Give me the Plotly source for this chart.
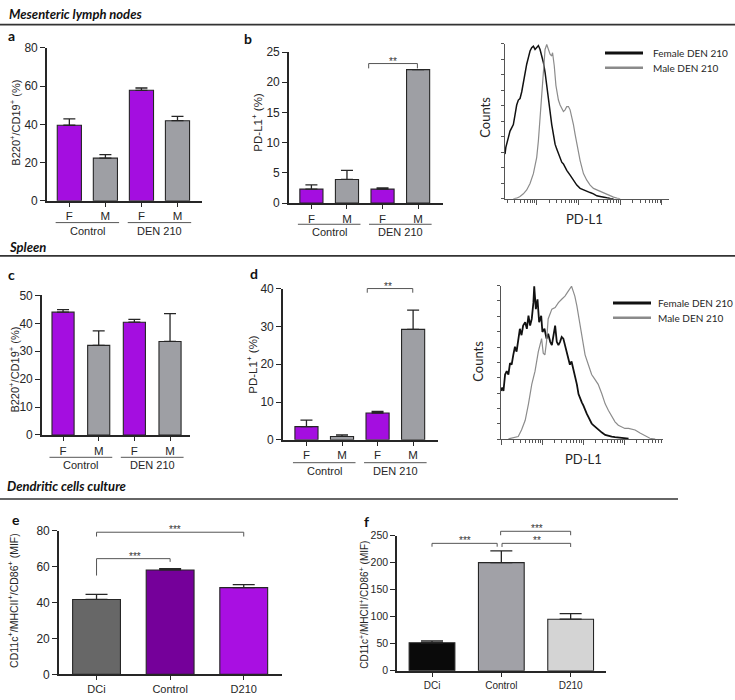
import plotly.graph_objects as go

W, H = 735, 700
GP_FONT = "Liberation Sans, Arial, sans-serif"
CAL_FONT = "Lato, Open Sans, sans-serif"
INK = "#262626"

# ---------------- data ----------------
sex_labels = ["F", "M", "F", "M"]
treat_groups = ["Control", "DEN 210"]

mln_b220 = [39.5, 22.3, 57.8, 41.9]
mln_b220_sem = [3.3, 1.8, 1.2, 2.2]
mln_pdl1 = [2.3, 3.9, 2.3, 22.1]
mln_pdl1_sem = [0.7, 1.5, 0.2, 0.0]
spl_b220 = [44.0, 32.1, 40.4, 33.5]
spl_b220_sem = [0.9, 5.2, 1.0, 10.0]
spl_pdl1 = [3.5, 0.9, 7.1, 29.2]
spl_pdl1_sem = [1.7, 0.4, 0.4, 5.1]

dc_groups = ["DCi", "Control", "D210"]
dc_e = [41.7, 58.1, 48.3]
dc_e_sem = [2.8, 0.8, 1.6]
dc_f = [51.8, 199.8, 95.3]
dc_f_sem = [3.2, 21.8, 10.3]

hist_legend = ["Female DEN 210", "Male DEN 210"]
# histograms: log10(PD-L1 intensity) and counts (% of mode)
h1_female_log = [1.24, 1.26, 1.32, 1.36, 1.40, 1.44, 1.48, 1.52, 1.56, 1.60, 1.64, 1.68, 1.72, 1.76, 1.80,
                 1.84, 1.88, 1.92, 1.96, 2.00, 2.04, 2.08, 2.12, 2.16, 2.20, 2.24, 2.28, 2.32, 2.36, 2.40,
                 2.44, 2.48, 2.52, 2.56, 2.60, 2.64, 2.68, 2.72, 2.80, 2.88, 2.96, 3.04, 3.12, 3.20, 3.28,
                 3.36, 3.44, 3.52, 3.60, 3.68, 3.76, 3.84]
h1_female_cnt = [28.8, 33.1, 39.4, 43.6, 45.7, 47.8, 54.1, 60.4, 63.6, 64.6, 68.8, 75.2, 82.5, 86.7, 90.9,
                 95.2, 97.3, 98.3, 96.2, 97.3, 98.7, 96.2, 92.0, 87.8, 81.5, 73.1, 62.5, 54.1, 47.8, 41.5,
                 35.2, 32.0, 28.8, 25.7, 23.6, 22.5, 20.4, 18.3, 15.2, 12.0, 8.8, 6.7, 5.7, 4.6, 4.0,
                 3.2, 1.9, 1.5, 0.8, 0.6, 0.2, 0]
h1_male_log = [1.44, 1.52, 1.60, 1.68, 1.76, 1.84, 1.92, 2.00, 2.04, 2.08, 2.12, 2.16, 2.20, 2.24, 2.28,
               2.32, 2.36, 2.38, 2.42, 2.46, 2.52, 2.56, 2.64, 2.68, 2.72, 2.76, 2.80, 2.84, 2.88, 2.92,
               2.96, 3.00, 3.04, 3.08, 3.12, 3.20, 3.28, 3.36, 3.44, 3.52, 3.60, 3.68, 3.76, 3.84, 3.92, 4.00]
h1_male_cnt = [0, 0.4, 1.5, 3.2, 5.7, 9.9, 16.2, 26.7, 37.3, 52.0, 68.8, 83.6, 96.2, 99.4, 96.2,
               93.1, 92.0, 94.1, 85.7, 73.1, 63.6, 60.4, 56.2, 57.3, 59.4, 59.4, 57.3, 53.1, 47.8, 41.5,
               35.2, 30.9, 24.6, 20.4, 16.2, 12.0, 8.8, 6.7, 5.7, 4.6, 4.0, 2.9, 1.9, 1.1, 0.4, 0]
h2_female_log = [1.00, 1.03, 1.06, 1.10, 1.14, 1.18, 1.22, 1.26, 1.30, 1.34, 1.38, 1.42, 1.46, 1.50, 1.54,
                 1.59, 1.63, 1.67, 1.71, 1.75, 1.79, 1.81, 1.85, 1.89, 1.93, 1.98, 2.01, 2.06, 2.11, 2.15,
                 2.20, 2.24, 2.28, 2.32, 2.36, 2.40, 2.44, 2.48, 2.52, 2.56, 2.60, 2.64, 2.68, 2.72, 2.76,
                 2.80, 2.85, 2.89, 2.93, 2.97, 3.01, 3.05, 3.09, 3.13, 3.17, 3.21, 3.25, 3.29, 3.37, 3.46,
                 3.54, 3.62, 3.70, 3.78, 3.94, 4.11]
h2_female_cnt = [31.5, 33.6, 31.5, 42.1, 44.3, 42.1, 49.6, 48.5, 54.9, 60.2, 57.0, 65.5, 71.9, 67.7, 74.0,
                 76.2, 71.9, 80.4, 74.0, 78.3, 88.9, 99.6, 84.7, 91.1, 76.2, 80.4, 69.8, 71.9, 65.5, 68.7,
                 63.4, 61.3, 67.7, 74.0, 63.4, 61.3, 63.4, 66.6, 65.5, 61.3, 57.0, 52.8, 48.5, 50.6, 46.4,
                 42.1, 35.7, 29.4, 26.2, 24.0, 21.9, 18.7, 16.6, 14.5, 12.3, 10.2, 9.1, 8.1, 6.0, 4.3,
                 2.8, 2.1, 1.7, 1.3, 0.9, 0.4]
h2_male_log = [1.18, 1.34, 1.42, 1.50, 1.59, 1.67, 1.75, 1.83, 1.91, 1.99, 2.03, 2.07, 2.11, 2.15, 2.24,
               2.32, 2.40, 2.48, 2.56, 2.64, 2.68, 2.72, 2.76, 2.80, 2.85, 2.89, 2.93, 2.97, 3.01, 3.05,
               3.13, 3.21, 3.29, 3.37, 3.46, 3.54, 3.62, 3.70, 3.78, 3.86, 3.94, 4.02, 4.11, 4.19, 4.27,
               4.39, 4.63, 4.76]
h2_male_cnt = [0.2, 0.9, 1.7, 6.0, 12.3, 23.0, 35.7, 44.3, 57.0, 65.5, 56.0, 54.9, 63.4, 78.3, 84.7,
               85.7, 88.9, 91.1, 93.2, 96.4, 98.5, 99.6, 96.4, 93.2, 86.8, 80.4, 74.0, 67.7, 61.3, 54.9,
               48.5, 42.1, 38.9, 35.7, 29.4, 23.0, 18.7, 14.5, 11.3, 9.1, 8.1, 7.0, 7.0, 6.4, 6.0,
               4.0, 0.6, 0]

# ---------------- styles ----------------
PURPLE = "#a40ee0"
GREY = "#9e9fa4"
sex_colors = [PURPLE, GREY, PURPLE, GREY]
e_colors = ["#676767", "#75009a", "#a90fe2"]
f_colors = ["#0a0a0a", "#a1a1a7", "#d4d4d4"]

fig = go.Figure()
layout = dict(width=W, height=H, margin=dict(l=0, r=0, t=0, b=0),
              paper_bgcolor="white", plot_bgcolor="rgba(0,0,0,0)", showlegend=False,
              font=dict(family=GP_FONT, size=11, color=INK))
shapes, annotations = [], []


def fx(p):
    return p / W


def fy(p):
    return 1 - p / H


class Panel:
    def __init__(self, idx, xpx, ypx, xr, yr):
        self.idx, self.xpx, self.ypx, self.xr, self.yr = idx, xpx, ypx, xr, yr
        s = "" if idx == 1 else str(idx)
        self.xa, self.ya = "x" + s, "y" + s
        self.xn, self.yn = "xaxis" + s, "yaxis" + s

    def Xpx(self, v):
        return self.xpx[0] + (v - self.xr[0]) / (self.xr[1] - self.xr[0]) * (self.xpx[1] - self.xpx[0])

    def Ypx(self, v):
        return self.ypx[1] - (v - self.yr[0]) / (self.yr[1] - self.yr[0]) * (self.ypx[1] - self.ypx[0])

    def X(self, v):
        return fx(self.Xpx(v))

    def Y(self, v):
        return fy(self.Ypx(v))

    def dom(self):
        return dict(domain=[fx(self.xpx[0]), fx(self.xpx[1])]), dict(domain=[fy(self.ypx[1]), fy(self.ypx[0])])


def text(t, x, y, size, family=GP_FONT, angle=0, xanchor="center", color=INK):
    annotations.append(dict(text=t, x=x, y=y, xref="paper", yref="paper", showarrow=False,
                            xanchor=xanchor, yanchor="middle", textangle=angle,
                            font=dict(family=family, size=size, color=color)))


def hline(x0, x1, y, width=1, color=INK):
    shapes.append(dict(type="line", xref="paper", yref="paper", x0=x0, x1=x1, y0=y, y1=y,
                       line=dict(color=color, width=width)))


def bar_panel(p, vals, errs, colors, ticktext, dtick, bw, cap, ytick_size, xtick_size):
    n = len(vals)
    fig.add_trace(go.Bar(x=list(range(n)), y=vals, width=bw,
                         marker=dict(color=colors, line=dict(color=INK, width=1.1)),
                         error_y=dict(type="data", symmetric=False, array=errs, arrayminus=[0] * n,
                                      color=INK, thickness=1.3, width=cap),
                         xaxis=p.xa, yaxis=p.ya, hoverinfo="skip"))
    xd, yd = p.dom()
    layout[p.xn] = dict(**xd, range=list(p.xr), anchor=p.ya, showline=True, linecolor=INK, linewidth=1.6,
                        ticks="outside", ticklen=4, tickwidth=1.3, tickcolor=INK, tickmode="array",
                        tickvals=list(range(n)), ticktext=ticktext,
                        tickfont=dict(family=GP_FONT, size=xtick_size, color=INK),
                        showgrid=False, zeroline=False, fixedrange=True)
    layout[p.yn] = dict(**yd, range=list(p.yr), anchor=p.xa, showline=True, linecolor=INK, linewidth=1.6,
                        ticks="outside", ticklen=5, tickwidth=1.3, tickcolor=INK, tick0=0, dtick=dtick,
                        tickfont=dict(family=GP_FONT, size=ytick_size, color=INK),
                        showgrid=False, zeroline=False, fixedrange=True)


def group_lines(p, line_y, label_y):
    for k, g in enumerate(treat_groups):
        c = 2 * k + 0.5
        hline(p.X(c - 0.88), p.X(c + 0.88), fy(line_y), width=1, color="#555")
        text(g, p.X(c), fy(label_y), 11)


def bracket(p, x0, x1, ytop, yl, yr, stars, sx):
    X0, X1 = p.X(x0), p.X(x1)
    ty = p.Ypx(ytop)
    path = "M {a},{b} L {a},{c} L {d},{c} L {d},{e}".format(a=X0, b=p.Y(yl), c=fy(ty), d=X1, e=p.Y(yr))
    shapes.append(dict(type="path", xref="paper", yref="paper", path=path,
                       line=dict(color="#555", width=1)))
    text(stars, p.X(sx), fy(ty - 2.5), 10, color="#333")


def hist_panel(p, series):
    for logs, cnts, color, width in series:
        fig.add_trace(go.Scatter(x=[10 ** v for v in logs], y=cnts, mode="lines",
                                 line=dict(color=color, width=width, shape="linear"),
                                 xaxis=p.xa, yaxis=p.ya, hoverinfo="skip"))
    xd, yd = p.dom()
    majors = [10 ** d for d in range(0, 6)]
    minors = [k * 10 ** d for d in range(0, 6) for k in range(2, 10)]
    layout[p.xn] = dict(**xd, type="log", range=list(p.xr), anchor=p.ya, showline=True,
                        linecolor="#555", linewidth=1, ticks="outside", ticklen=5, tickwidth=1,
                        tickcolor="#555", tickmode="array", tickvals=majors, showticklabels=False,
                        minor=dict(tickmode="array", tickvals=minors, ticks="outside", ticklen=3,
                                   tickwidth=1, tickcolor="#555", showgrid=False),
                        showgrid=False, zeroline=False, fixedrange=True)
    layout[p.yn] = dict(**yd, range=list(p.yr), anchor=p.xa, showline=True, linecolor="#555",
                        linewidth=1, ticks="outside", ticklen=3, tickwidth=1, tickcolor="#555",
                        dtick=10, tick0=0, showticklabels=False, showgrid=False, zeroline=False,
                        fixedrange=True)


def hist_legend_block(x0, x1, y0, y1, tx):
    shapes.append(dict(type="line", xref="paper", yref="paper", x0=fx(x0), x1=fx(x1), y0=fy(y0), y1=fy(y0),
                       line=dict(color="#111", width=3)))
    shapes.append(dict(type="line", xref="paper", yref="paper", x0=fx(x0), x1=fx(x1), y0=fy(y1), y1=fy(y1),
                       line=dict(color="#8a8a8a", width=2.5)))
    text(hist_legend[0], fx(tx), fy(y0), 10, family=CAL_FONT, xanchor="left")
    text(hist_legend[1], fx(tx), fy(y1), 10, family=CAL_FONT, xanchor="left")


# ---------------- panels ----------------
pa = Panel(1, (47, 202), (41.7, 197.7), (-0.62, 3.68), (0, 80))
pb = Panel(2, (289, 443), (46, 200), (-0.63, 3.7), (0, 25))
ph1 = Panel(3, (505, 669), (37.3, 195.7), (1.24, 5.17), (0, 100))
pc = Panel(4, (42, 190), (294.3, 436.7), (-0.59, 3.56), (0, 50))
pd_ = Panel(5, (283, 438), (287.3, 441.7), (-0.66, 3.7), (0, 40))
ph2 = Panel(6, (501, 663), (284.3, 441), (1.0, 4.95), (0, 100))
pe = Panel(7, (59, 282), (534.3, 681), (-0.51, 2.52), (0, 80))
pf = Panel(8, (397, 606), (539.3, 677.3), (-0.505, 2.51), (0, 250))

bar_panel(pa, mln_b220, mln_b220_sem, sex_colors, sex_labels, 20, 0.67, 6, 12, 11.5)
bar_panel(pb, mln_pdl1, mln_pdl1_sem, sex_colors, sex_labels, 5, 0.65, 6, 12, 11.5)
bar_panel(pc, spl_b220, spl_b220_sem, sex_colors, sex_labels, 10, 0.62, 6, 12, 11.5)
bar_panel(pd_, spl_pdl1, spl_pdl1_sem, sex_colors, sex_labels, 10, 0.65, 6, 12, 11.5)
bar_panel(pe, dc_e, dc_e_sem, e_colors, dc_groups, 20, 0.65, 11, 12, 11)
bar_panel(pf, dc_f, dc_f_sem, f_colors, dc_groups, 50, 0.66, 11, 10.5, 10)

hist_panel(ph1, [(h1_female_log, h1_female_cnt, "#111111", 1.5),
                 (h1_male_log, h1_male_cnt, "#8c8c8c", 1.2)])
hist_panel(ph2, [(h2_female_log, h2_female_cnt, "#111111", 1.8),
                 (h2_male_log, h2_male_cnt, "#8c8c8c", 1.2)])

# group underlines and labels
group_lines(pa, 220, 229)
group_lines(pb, 221.7, 229.3)
group_lines(pc, 459.5, 467.5)
group_lines(pd_, 465, 473)

# significance brackets
bracket(pb, 1.61, 2.98, 23.1, 22.3, 22.3, "**", 2.3)
bracket(pd_, 1.71, 2.99, 40, 38.9, 38.9, "**", 2.3)
bracket(pe, 0, 1, 64.4, 55, 62.6, "***", 0.52)
bracket(pe, 0, 2, 79.1, 76.7, 76.7, "***", 1.06)
bracket(pf, 0, 0.94, 235.5, 229.3, 229.3, "***", 0.48)
bracket(pf, 0.99, 2.0, 257.8, 250.5, 250.5, "***", 1.51)
bracket(pf, 1.01, 2.0, 235.5, 228.8, 228.8, "**", 1.51)

# y-axis titles
text("B220<sup>+</sup>/CD19<sup>+</sup> (%)", fx(15), fy(118), 11, angle=-90)
text("PD-L1<sup>+</sup> (%)", fx(257), fy(118), 11.5, angle=-90)
text("B220<sup>+</sup>/CD19<sup>+</sup> (%)", fx(14), fy(370), 11, angle=-90)
text("PD-L1<sup>+</sup> (%)", fx(252), fy(365), 11.5, angle=-90)
text("CD11c<sup>+</sup>/MHCII<sup>+</sup>/CD86<sup>+</sup> (MIF)", fx(13), fy(606), 10.5, angle=-90)
text("CD11c<sup>+</sup>/MHCII<sup>+</sup>/CD86<sup>+</sup> (MIF)", fx(364), fy(610), 10, angle=-90)

# histogram labels and legends
text("Counts", fx(485), fy(112), 13, family=CAL_FONT, angle=-90)
text("PD-L1", fx(584), fy(216), 13, family=CAL_FONT)
hist_legend_block(605, 643, 47, 62, 651)
text("Counts", fx(478), fy(362), 13, family=CAL_FONT, angle=-90)
text("PD-L1", fx(583), fy(461), 13, family=CAL_FONT)
hist_legend_block(613, 651, 302, 317, 656)

# section headers and separators
text("<b><i>Mesenteric lymph nodes</i></b>", fx(7), fy(7), 13, family=CAL_FONT, xanchor="left", color="#111")
hline(0, 1, fy(18), width=1.6, color="#333")
text("<b><i>Spleen</i></b>", fx(7), fy(245), 13, family=CAL_FONT, xanchor="left", color="#111")
hline(0, 1, fy(254), width=1.6, color="#333")
text("<b><i>Dendritic cells culture</i></b>", fx(5), fy(489), 13, family=CAL_FONT, xanchor="left", color="#111")
hline(0, fx(678), fy(502), width=1.6, color="#333")

# panel letters
for lab, x, y in [("a", 6, 29), ("b", 242, 32), ("c", 6, 273), ("d", 248, 272), ("e", 10, 523), ("f", 362, 525)]:
    text("<b>%s</b>" % lab, fx(x), fy(y), 14, family=CAL_FONT, xanchor="left", color="#111")

layout["shapes"] = shapes
layout["annotations"] = annotations
fig.update_layout(**layout)
fig.write_html("out.html", config={"displayModeBar": False},
               post_script="document.body.style.margin='0px';")
